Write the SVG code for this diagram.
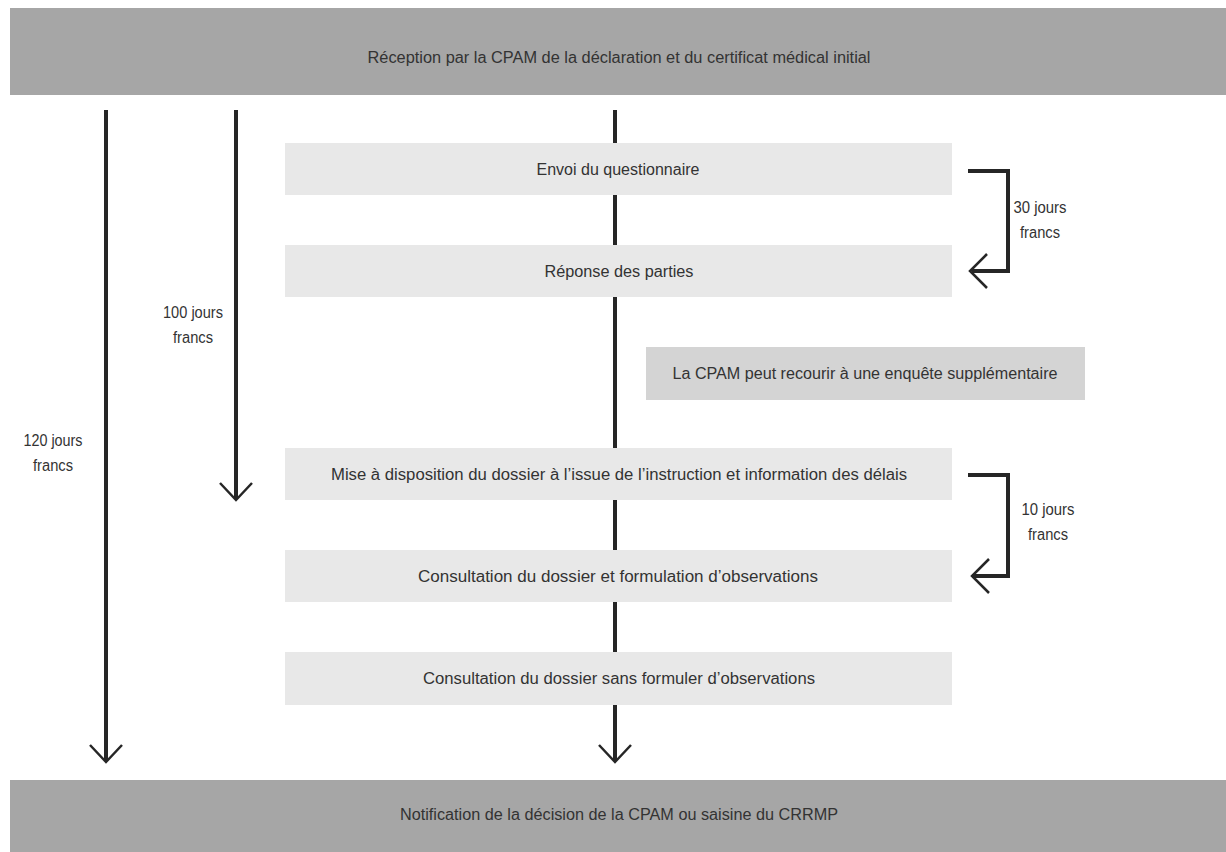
<svg xmlns="http://www.w3.org/2000/svg" width="1226" height="852" viewBox="0 0 1226 852">
<style>
.bar{fill:#a6a6a6}
.box{fill:#e8e8e8}
.box2{fill:#d4d4d4}
text{font-family:"Liberation Sans",Arial,sans-serif;font-size:16px;fill:#333;text-anchor:middle}
.ln{stroke:#262626;stroke-width:4;fill:none}
.hd{stroke:#262626;stroke-width:2.5;fill:none}
</style>
<rect width="1226" height="852" fill="#fff"/>
<g id="n-reception"><rect class="bar" x="10" y="8" width="1216" height="87"/><text x="619" y="63" textLength="503" lengthAdjust="spacingAndGlyphs">Réception par la CPAM de la déclaration et du certificat médical initial</text></g>
<g id="connectors">
<line class="ln" x1="106" y1="110" x2="106" y2="760"/>
<polyline class="hd" points="90,745 106,762 122,745"/>
<line class="ln" x1="236" y1="110" x2="236" y2="498"/>
<polyline class="hd" points="220,483 236,500 252,483"/>
<line class="ln" x1="615" y1="110" x2="615" y2="760"/>
<polyline class="hd" points="599,745 615,762 631,745"/>
<polyline class="ln" points="968,171 1008,171 1008,271 972,271"/>
<polyline class="hd" points="987,254 970,271 987,288"/>
<polyline class="ln" points="968,475 1008,475 1008,576 972,576"/>
<polyline class="hd" points="989,559 972,576 989,593"/>
</g>
<g id="n-envoi"><rect class="box" x="285" y="143" width="667" height="52"/><text x="618" y="175" textLength="163" lengthAdjust="spacingAndGlyphs">Envoi du questionnaire</text></g>
<g id="n-reponse"><rect class="box" x="285" y="245" width="667" height="52"/><text x="619" y="277" textLength="149" lengthAdjust="spacingAndGlyphs">Réponse des parties</text></g>
<g id="n-enquete"><rect class="box2" x="646" y="347" width="439" height="53"/><text x="865" y="379" textLength="385" lengthAdjust="spacingAndGlyphs">La CPAM peut recourir à une enquête supplémentaire</text></g>
<g id="n-mise"><rect class="box" x="285" y="448" width="667" height="52"/><text x="619" y="480" textLength="576" lengthAdjust="spacingAndGlyphs">Mise à disposition du dossier à l’issue de l’instruction et information des délais</text></g>
<g id="n-consult1"><rect class="box" x="285" y="550" width="667" height="52"/><text x="618" y="582" textLength="400" lengthAdjust="spacingAndGlyphs">Consultation du dossier et formulation d’observations</text></g>
<g id="n-consult2"><rect class="box" x="285" y="652" width="667" height="53"/><text x="619" y="684" textLength="392" lengthAdjust="spacingAndGlyphs">Consultation du dossier sans formuler d’observations</text></g>
<g id="n-notif"><rect class="bar" x="10" y="780" width="1216" height="72"/><text x="619" y="820" textLength="438" lengthAdjust="spacingAndGlyphs">Notification de la décision de la CPAM ou saisine du CRRMP</text></g>
<g id="labels">
<text x="1040" y="213" textLength="53" lengthAdjust="spacingAndGlyphs">30 jours</text><text x="1040" y="238" textLength="40" lengthAdjust="spacingAndGlyphs">francs</text>
<text x="1048" y="515" textLength="53" lengthAdjust="spacingAndGlyphs">10 jours</text><text x="1048" y="540" textLength="40" lengthAdjust="spacingAndGlyphs">francs</text>
<text x="193" y="318" textLength="60" lengthAdjust="spacingAndGlyphs">100 jours</text><text x="193" y="343" textLength="40" lengthAdjust="spacingAndGlyphs">francs</text>
<text x="53" y="446" textLength="59" lengthAdjust="spacingAndGlyphs">120 jours</text><text x="53" y="471" textLength="40" lengthAdjust="spacingAndGlyphs">francs</text>
</g>
</svg>
